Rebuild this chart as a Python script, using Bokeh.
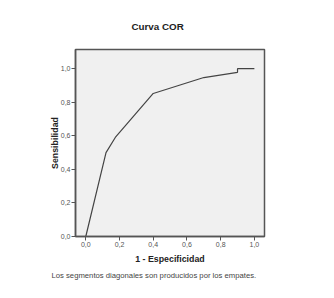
from bokeh.plotting import figure
from bokeh.models import Range1d, FixedTicker, Title
from bokeh.embed import file_html
from bokeh.resources import INLINE

fpr = [0.0, 0.12, 0.175, 0.40, 0.70, 0.90, 0.90, 1.0]
tpr = [0.0, 0.50, 0.59, 0.852, 0.947, 0.978, 1.0, 1.0]
ticks = [0.0, 0.2, 0.4, 0.6, 0.8, 1.0]
tick_labels = ["0,0", "0,2", "0,4", "0,6", "0,8", "1,0"]
title_text = "Curva COR"
footnote = "Los segmentos diagonales son producidos por los empates."

FONT = "Liberation Sans"

p = figure(width=318, height=282, output_backend="svg", toolbar_location=None,
           x_range=Range1d(-0.061, 1.06), y_range=Range1d(0.0, 1.114),
           min_border_left=75, min_border_right=54, min_border_top=49, min_border_bottom=45)
p.background_fill_color = "#f0f0f0"
p.border_fill_color = "white"
p.outline_line_color = "#555555"
p.outline_line_width = 1.5
p.grid.visible = False

p.line(fpr, tpr, line_color="#444444", line_width=1.2)

for ax in (p.xaxis[0], p.yaxis[0]):
    ax.ticker = FixedTicker(ticks=ticks)
    ax.major_label_overrides = {t: l for t, l in zip(ticks, tick_labels)}
    ax.minor_tick_line_color = None
    ax.major_tick_out = 4
    ax.major_tick_in = 0
    ax.major_tick_line_color = "#555555"
    ax.axis_line_color = "#555555"
    ax.axis_line_width = 1.5
    ax.major_label_text_font = FONT
    ax.major_label_text_font_size = "7px"
    ax.major_label_text_color = "#555555"
    ax.axis_label_text_font = FONT
    ax.axis_label_text_font_style = "bold"
    ax.axis_label_text_font_size = "8.8px"
    ax.axis_label_text_color = "#222222"

p.xaxis.axis_label = "1 - Especificidad"
p.yaxis.axis_label = "Sensibilidad"
p.xaxis.major_label_standoff = 1
p.yaxis.major_label_standoff = 1
p.xaxis.axis_label_standoff = 4
p.yaxis.axis_label_standoff = -2

p.add_layout(Title(text=title_text, align="left", offset=56, text_font=FONT,
                   text_font_style="bold", text_font_size="9.8px", text_color="#222222",
                   standoff=36), "above")
p.add_layout(Title(text=footnote, align="left", offset=-24, text_font=FONT,
                   text_font_style="normal", text_font_size="7.7px", text_color="#444444",
                   standoff=5), "below")

open("out.html", "w").write(file_html(p, INLINE))
